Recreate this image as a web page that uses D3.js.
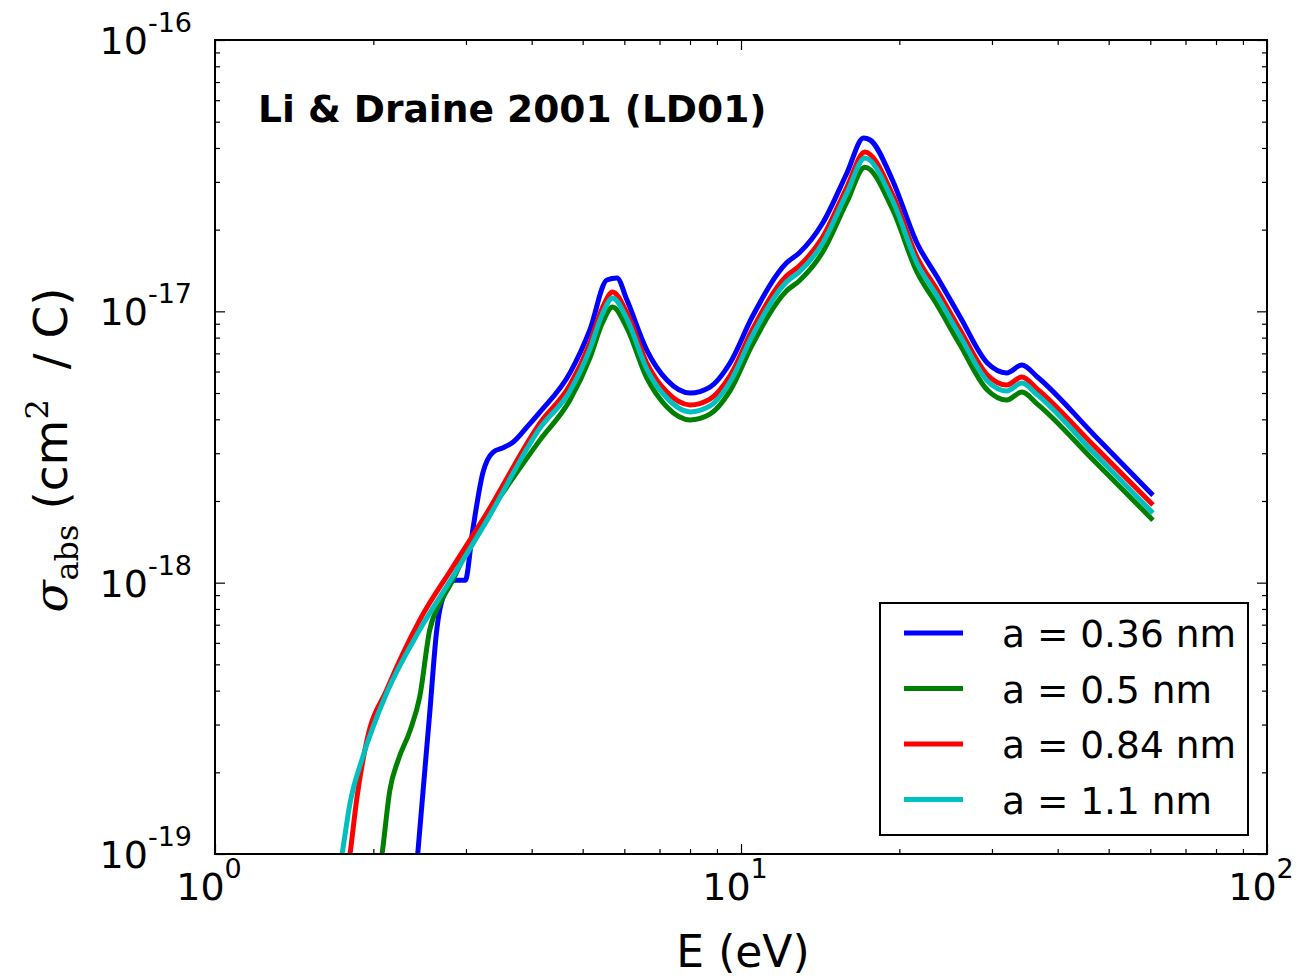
<!DOCTYPE html>
<html>
<head>
<meta charset="utf-8">
<script src="https://cdn.jsdelivr.net/npm/d3@7"></script>
<style>
  html, body { margin: 0; padding: 0; background: #fff; }
  svg { display: block; }
  text { font-family: "DejaVu Sans", sans-serif; fill: #000; }
</style>
</head>
<body>
<svg id="chart" width="1300" height="978"></svg>
<script>
// Absorption cross section per C atom for PAH grains of four sizes (Li & Draine 2001)
const seriesLabels = ["a = 0.36 nm", "a = 0.5 nm", "a = 0.84 nm", "a = 1.1 nm"];
const seriesColors = ["#0000ff", "#008000", "#ff0000", "#00bfbf"];

// a = 0.36 nm
const energyA036 = [2.41, 2.43, 2.56, 2.64, 2.76, 2.83, 2.99, 3.09, 3.23, 3.38, 3.53, 3.69, 3.92, 4.15,
  4.73, 5.16, 5.56, 5.81, 6.07, 6.62, 7.23, 8.00, 8.73, 9.53, 10.5, 12.2, 12.9, 14.3, 15.9,
  17.1, 17.6, 19.4, 21.6, 23.6, 26.1, 29.4, 32.0, 34.2, 36.6, 47.0, 60.7];
const sigmaA036 = [8.3e-20, 1.01e-19, 3.31e-19, 6.7e-19, 9.6e-19, 1.02e-18, 1.02e-18, 1.56e-18, 2.54e-18,
  3.03e-18, 3.14e-18, 3.30e-18, 3.75e-18, 4.26e-18,
  5.93e-18, 8.54e-18, 1.305e-17, 1.327e-17, 1.10e-17, 7.20e-18, 5.58e-18, 5.00e-18, 5.26e-18, 6.45e-18,
  9.53e-18, 1.507e-17, 1.641e-17, 2.116e-17, 3.235e-17, 4.353e-17, 4.28e-17, 3.05e-17, 1.786e-17,
  1.338e-17, 9.53e-18, 6.45e-18, 5.93e-18, 6.34e-18, 5.73e-18, 3.49e-18, 2.10e-18];

// a = 0.5 nm
const energyA05 = [2.05, 2.078, 2.15, 2.23, 2.35, 2.45, 2.56, 2.68, 2.83, 3.09, 3.48, 4.15,
  4.73, 5.16, 5.45, 5.70, 6.07, 6.62, 7.23, 8.00, 8.73, 9.53, 10.5, 12.2, 12.9, 14.3, 15.9,
  17.2, 19.4, 21.6, 23.6, 26.1, 29.4, 32.0, 34.2, 36.6, 47.0, 60.7];
const sigmaA05 = [8.3e-20, 1.0e-19, 1.72e-19, 2.22e-19, 2.86e-19, 3.79e-19, 6.70e-19, 8.41e-19, 1.02e-18,
  1.47e-18, 2.07e-18, 3.36e-18,
  4.71e-18, 6.73e-18, 9.06e-18, 1.038e-17, 8.68e-18, 5.68e-18, 4.44e-18, 3.98e-18, 4.18e-18, 5.09e-18,
  7.51e-18, 1.188e-17, 1.294e-17, 1.654e-17, 2.529e-17, 3.40e-17, 2.383e-17, 1.396e-17, 1.055e-17,
  7.51e-18, 5.13e-18, 4.71e-18, 5.04e-18, 4.55e-18, 2.80e-18, 1.70e-18];

// a = 0.84 nm
const energyA084 = [1.78, 1.806, 1.862, 1.945, 2.12, 2.45, 2.83, 3.29, 4.15,
  4.73, 5.16, 5.45, 5.70, 6.07, 6.62, 7.23, 8.00, 8.73, 9.53, 10.5, 12.2, 12.9, 14.3, 15.9,
  17.2, 19.4, 21.6, 23.6, 26.1, 29.4, 32.0, 34.2, 36.6, 47.0, 60.7];
const sigmaA084 = [8.2e-20, 1.0e-19, 1.62e-19, 2.63e-19, 4.02e-19, 7.28e-19, 1.14e-18, 1.81e-18, 3.88e-18,
  5.35e-18, 7.64e-18, 1.029e-17, 1.178e-17, 9.86e-18, 6.45e-18, 5.04e-18, 4.52e-18, 4.75e-18, 5.78e-18,
  8.54e-18, 1.349e-17, 1.469e-17, 1.878e-17, 2.872e-17, 3.866e-17, 2.706e-17, 1.586e-17, 1.198e-17,
  8.54e-18, 5.83e-18, 5.35e-18, 5.73e-18, 5.17e-18, 3.18e-18, 1.932e-18];

// a = 1.1 nm
const energyA11 = [1.713, 1.744, 1.806, 1.91, 2.12, 2.45, 2.83, 3.29, 4.15,
  4.73, 5.16, 5.45, 5.70, 6.07, 6.62, 7.23, 8.00, 8.73, 9.53, 10.5, 12.2, 12.9, 14.3, 15.9,
  17.2, 19.4, 21.6, 23.6, 26.1, 29.4, 32.0, 34.2, 36.6, 47.0, 60.7];
const sigmaA11 = [8.2e-20, 1.0e-19, 1.54e-19, 2.28e-19, 3.92e-19, 6.70e-19, 1.05e-18, 1.70e-18, 3.72e-18,
  5.09e-18, 7.26e-18, 9.78e-18, 1.120e-17, 9.37e-18, 6.13e-18, 4.79e-18, 4.26e-18, 4.48e-18, 5.49e-18,
  8.11e-18, 1.283e-17, 1.396e-17, 1.786e-17, 2.73e-17, 3.674e-17, 2.572e-17, 1.507e-17, 1.139e-17,
  8.11e-18, 5.54e-18, 5.09e-18, 5.44e-18, 4.92e-18, 2.99e-18, 1.806e-18];

const xMajorTicks = [1, 10, 100];
const xTickExponents = ["0", "1", "2"];
const yMajorTicks = [1e-19, 1e-18, 1e-17, 1e-16];
const yTickExponents = ["-19", "-18", "-17", "-16"];
const titleText = "Li & Draine 2001 (LD01)";
const xTitle = "E (eV)";

const series = [
  { label: seriesLabels[0], color: seriesColors[0], E: energyA036, s: sigmaA036 },
  { label: seriesLabels[1], color: seriesColors[1], E: energyA05, s: sigmaA05 },
  { label: seriesLabels[2], color: seriesColors[2], E: energyA084, s: sigmaA084 },
  { label: seriesLabels[3], color: seriesColors[3], E: energyA11, s: sigmaA11 }
];

const plot = { left: 215, right: 1267, top: 40, bottom: 854 };
const svg = d3.select("#chart");

const x = d3.scaleLog().domain([1, 100]).range([plot.left, plot.right]);
const y = d3.scaleLog().domain([1e-19, 1e-16]).range([plot.bottom, plot.top]);

function minorTicks(lo, hi) {
  const out = [];
  for (let p = lo; p < hi; p++) {
    for (let m = 2; m <= 9; m++) out.push(m * Math.pow(10, p));
  }
  return out;
}
const xMinor = minorTicks(0, 2);
const yMinor = minorTicks(-19, -16);

svg.append("defs").append("clipPath").attr("id", "plot-clip")
  .append("rect")
  .attr("x", plot.left).attr("y", plot.top)
  .attr("width", plot.right - plot.left).attr("height", plot.bottom - plot.top);

// data lines
const line = d3.line()
  .x(d => x(d[0]))
  .y(d => y(d[1]))
  .curve(d3.curveMonotoneX);

const lines = svg.append("g").attr("clip-path", "url(#plot-clip)");
series.forEach(sr => {
  lines.append("path")
    .datum(sr.E.map((e, i) => [e, sr.s[i]]))
    .attr("d", line)
    .attr("fill", "none")
    .attr("stroke", sr.color)
    .attr("stroke-width", 5)
    .attr("stroke-linejoin", "round");
});

// ticks pointing inward on all four sides
function tickAxis(axisFn, scale, values, size, transform) {
  const g = svg.append("g")
    .attr("transform", transform)
    .call(axisFn(scale).tickValues(values).tickSize(-size).tickFormat(""));
  g.select(".domain").remove();
  g.selectAll(".tick line").attr("stroke", "#000").attr("stroke-width", 1.2);
}
tickAxis(d3.axisBottom, x, xMajorTicks, 10, `translate(0,${plot.bottom})`);
tickAxis(d3.axisBottom, x, xMinor, 5, `translate(0,${plot.bottom})`);
tickAxis(d3.axisTop, x, xMajorTicks, 10, `translate(0,${plot.top})`);
tickAxis(d3.axisTop, x, xMinor, 5, `translate(0,${plot.top})`);
tickAxis(d3.axisLeft, y, yMajorTicks, 10, `translate(${plot.left},0)`);
tickAxis(d3.axisLeft, y, yMinor, 5, `translate(${plot.left},0)`);
tickAxis(d3.axisRight, y, yMajorTicks, 10, `translate(${plot.right},0)`);
tickAxis(d3.axisRight, y, yMinor, 5, `translate(${plot.right},0)`);

// frame
svg.append("rect")
  .attr("x", plot.left).attr("y", plot.top)
  .attr("width", plot.right - plot.left).attr("height", plot.bottom - plot.top)
  .attr("fill", "none").attr("stroke", "#000").attr("stroke-width", 2);

// tick labels, power-of-ten form
xMajorTicks.forEach((v, i) => {
  const t = svg.append("text")
    .attr("x", x(v) - 6).attr("y", plot.bottom + 46)
    .attr("text-anchor", "middle")
    .style("font-size", "38px");
  t.append("tspan").text("10");
  t.append("tspan").attr("dy", -22).style("font-size", "27px").text(xTickExponents[i]);
});
yMajorTicks.forEach((v, i) => {
  const t = svg.append("text")
    .attr("x", plot.left - 23).attr("y", y(v) + 14)
    .attr("text-anchor", "end")
    .style("font-size", "38px");
  t.append("tspan").text("10");
  t.append("tspan").attr("dy", -22).style("font-size", "27px").text(yTickExponents[i]);
});

// axis titles
svg.append("text")
  .attr("x", 743).attr("y", 967)
  .attr("text-anchor", "middle")
  .style("font-size", "44px")
  .text(xTitle);

const yt = svg.append("text")
  .attr("transform", `translate(67,450) rotate(-90)`)
  .attr("text-anchor", "middle")
  .style("font-size", "47px")
  .attr("xml:space", "preserve");
yt.append("tspan").style("font-family", "'DejaVu Serif', serif").style("font-style", "italic").text("σ");
yt.append("tspan").style("font-family", "'DejaVu Serif', serif").style("font-size", "32px").attr("dy", 11).text("abs");
yt.append("tspan").attr("dy", -11).text("\u00a0(cm");
yt.append("tspan").style("font-family", "'DejaVu Serif', serif").style("font-size", "32px").attr("dy", -19).text("2");
yt.append("tspan").attr("dy", 19).text("\u00a0\u00a0/ C)");

// panel title
svg.append("text")
  .attr("x", 258).attr("y", 122)
  .style("font-size", "37.6px").style("font-weight", "bold")
  .text(titleText);

// legend
const lg = svg.append("g");
lg.append("rect")
  .attr("x", 880).attr("y", 603).attr("width", 368).attr("height", 232)
  .attr("fill", "#fff").attr("stroke", "#000").attr("stroke-width", 2);
series.forEach((sr, i) => {
  const cy = 633 + i * 55.5;
  lg.append("line")
    .attr("x1", 904).attr("x2", 963).attr("y1", cy).attr("y2", cy)
    .attr("stroke", sr.color).attr("stroke-width", 5);
  lg.append("text")
    .attr("x", 1002).attr("y", cy + 14)
    .style("font-size", "37.5px")
    .text(sr.label);
});
</script>
</body>
</html>
